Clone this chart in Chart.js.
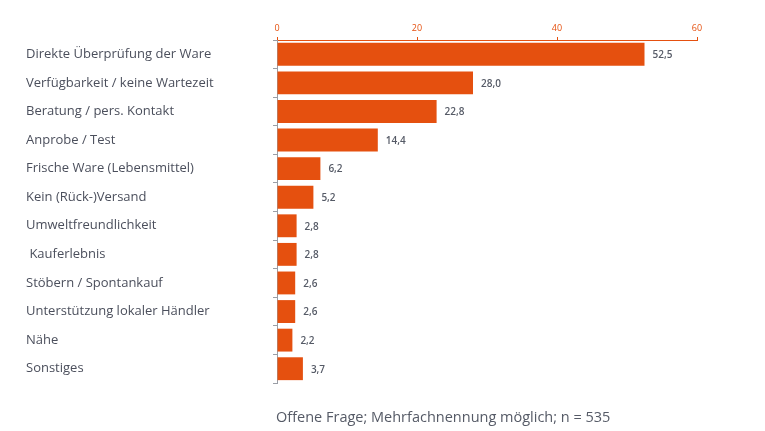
<!DOCTYPE html>
<html>
<head>
<meta charset="utf-8">
<script src="https://cdn.jsdelivr.net/npm/chart.js@4/dist/chart.umd.min.js"></script>
<style>
  html, body { margin: 0; padding: 0; background: #fff; }
  #wrap { position: relative; width: 765px; height: 431px; }
</style>
</head>
<body>
<div id="wrap"><canvas id="chart"></canvas></div>
<script>
// Chart data
const categories = [
    'Direkte Überprüfung der Ware',
    'Verfügbarkeit / keine Wartezeit',
    'Beratung / pers. Kontakt',
    'Anprobe / Test',
    'Frische Ware (Lebensmittel)',
    'Kein (Rück-)Versand',
    'Umweltfreundlichkeit',
    ' Kauferlebnis',
    'Stöbern / Spontankauf',
    'Unterstützung lokaler Händler',
    'Nähe',
    'Sonstiges'
];
const shares = [52.5, 28.0, 22.8, 14.4, 6.2, 5.2, 2.8, 2.8, 2.6, 2.6, 2.2, 3.7];
const xTicks = [0, 20, 40, 60];
const footnote = 'Offene Frage; Mehrfachnennung möglich; n = 535';

const ORANGE = '#e5500f';
const LABEL_GREY = '#4b4f5c';
const FONT = '"Open Sans", "DejaVu Sans", sans-serif';

// Value labels next to each bar + footnote
const valueLabels = {
    id: 'valueLabels',
    afterDatasetsDraw(chart) {
        const ctx = chart.ctx;
        const meta = chart.getDatasetMeta(0);
        ctx.save();
        ctx.font = '600 10px ' + FONT;
        ctx.fillStyle = '#555a66';
        ctx.textAlign = 'left';
        ctx.textBaseline = 'middle';
        meta.data.forEach((bar, i) => {
            const txt = shares[i].toFixed(1).replace('.', ',');
            ctx.fillText(txt, bar.x + 8, bar.y + 1);
        });
        ctx.font = '14.5px ' + FONT;
        ctx.fillStyle = '#555a66';
        ctx.textBaseline = 'alphabetic';
        ctx.fillText(footnote, chart.chartArea.left - 1, 422);
        ctx.restore();
    }
};

new Chart(document.getElementById('chart'), {
    type: 'bar',
    data: {
        labels: categories,
        datasets: [{
            data: shares,
            backgroundColor: ORANGE,
            barPercentage: 0.8,
            categoryPercentage: 1.0
        }]
    },
    options: {
        indexAxis: 'y',
        responsive: true,
        maintainAspectRatio: false,
        animation: false,
        layout: {
            padding: { left: 26, right: 68, top: 0, bottom: 48 }
        },
        plugins: {
            legend: { display: false },
            tooltip: { enabled: false }
        },
        scales: {
            x: {
                position: 'top',
                min: 0,
                max: 60,
                afterBuildTicks(scale) {
                    scale.ticks = xTicks.map(v => ({ value: v }));
                },
                afterFit(scale) {
                    scale.height = 40;
                },
                border: { color: ORANGE, width: 1 },
                grid: {
                    drawOnChartArea: false,
                    drawTicks: true,
                    tickLength: 3,
                    color: ORANGE
                },
                ticks: {
                    color: ORANGE,
                    padding: 3,
                    font: { family: FONT, size: 9 }
                }
            },
            y: {
                afterFit(scale) {
                    scale.width = 251;
                },
                border: { color: '#9a9ea6', width: 1 },
                grid: {
                    offset: true,
                    drawOnChartArea: false,
                    tickLength: 4,
                    color: '#9a9ea6'
                },
                ticks: {
                    crossAlign: 'far',
                    color: LABEL_GREY,
                    font: { family: FONT, size: 13, weight: '500' }
                }
            }
        }
    },
    plugins: [valueLabels]
});
</script>
</body>
</html>
